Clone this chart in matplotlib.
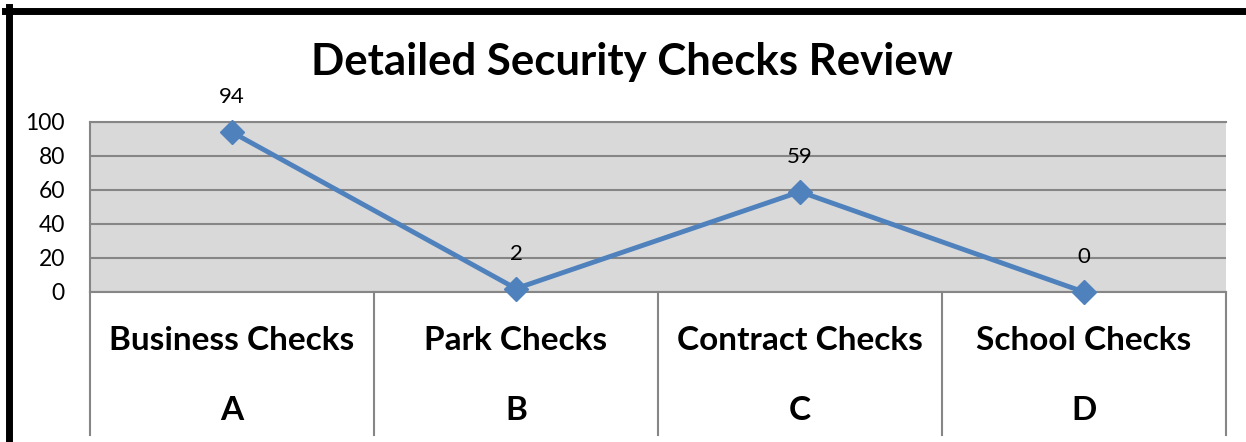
import matplotlib.pyplot as plt
from matplotlib.lines import Line2D
import matplotlib.transforms as mtransforms

# data
categories = ["Business Checks", "Park Checks", "Contract Checks", "School Checks"]
letters = ["A", "B", "C", "D"]
values = [94, 2, 59, 0]
yticks = [0, 20, 40, 60, 80, 100]

plt.rcParams['font.family'] = ['Lato', 'DejaVu Sans']

W, H = 1246, 442
fig = plt.figure(figsize=(W / 100, H / 100), dpi=100)
fig.patch.set_facecolor("white")

# plot area in pixel terms
left, right, top, bottom = 90, 1226, 122, 292
ax = fig.add_axes([left / W, 1 - bottom / H, (right - left) / W, (bottom - top) / H])
ax.set_facecolor("#d9d9d9")

x = list(range(len(categories)))
ax.plot(x, values, color="#4f81bd", lw=3.5, marker="D", markersize=12,
        markerfacecolor="#4f81bd", markeredgecolor="#4f81bd", zorder=5, clip_on=False)

for xi, v in zip(x, values):
    ax.annotate(str(v), (xi, v), xytext=(0, 25), textcoords="offset points",
                ha="center", va="center", fontsize=16, color="black")

ax.set_xlim(-0.5, len(categories) - 0.5)
ax.set_ylim(0, 100)
ax.set_yticks(yticks)
ax.set_yticklabels([str(t) for t in yticks], fontsize=16.5)
ax.tick_params(axis="y", length=0, pad=18)
ax.set_xticks([])
ax.grid(axis="y", color="#868686", lw=1.5)
ax.set_axisbelow(True)

for s in ["top", "left", "bottom"]:
    ax.spines[s].set_color("#868686")
    ax.spines[s].set_linewidth(1.5)
ax.spines["right"].set_visible(False)

# category separators and two-level labels
trans = mtransforms.blended_transform_factory(ax.transData, ax.transAxes)
for b in [i - 0.5 for i in range(len(categories) + 1)]:
    ax.plot([b, b], [0, -(435 - bottom) / (bottom - top)], color="#868686", lw=1.5,
            transform=trans, clip_on=False)
for xi, c, l in zip(x, categories, letters):
    ax.text(xi, -(340 - bottom) / (bottom - top), c, transform=trans, ha="center",
            va="center", fontsize=24, fontweight="bold")
    ax.text(xi, -(410 - bottom) / (bottom - top), l, transform=trans, ha="center",
            va="center", fontsize=24, fontweight="bold")

fig.text(632 / W, 1 - 62 / H, "Detailed Security Checks Review", ha="center",
         va="center", fontsize=31.5, fontweight="bold")

# black frame on top and left
fig.add_artist(Line2D([5 / W, 1], [1 - 10.5 / H, 1 - 10.5 / H], color="black", lw=5,
                      transform=fig.transFigure))
fig.add_artist(Line2D([8.5 / W, 8.5 / W], [0, 1 - 7 / H], color="black", lw=5,
                      transform=fig.transFigure))

fig.savefig("out.png", dpi=100)
